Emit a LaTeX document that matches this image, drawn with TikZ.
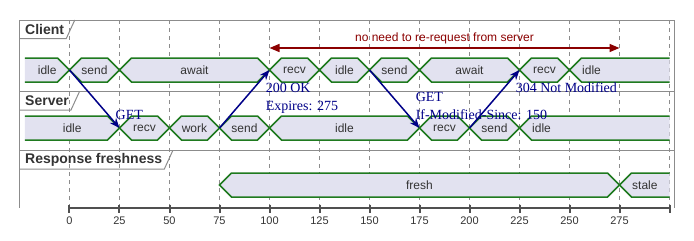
\documentclass[tikz,border=0pt]{standalone}
\usepackage{fontspec}
\setmainfont{Liberation Serif}
\setsansfont{Liberation Sans}
\usetikzlibrary{arrows.meta, calc}
\definecolor{waveFill}{HTML}{E2E2F0}
\definecolor{waveGreen}{HTML}{1F7A1F}
\definecolor{msgBlue}{HTML}{000088}
\definecolor{noteRed}{HTML}{8B0000}
\definecolor{frameGray}{HTML}{8C8C8C}
\definecolor{axisGray}{HTML}{505050}
\definecolor{textGray}{HTML}{333333}

% waveform segments: name, y centre, from, to, label
\newcommand{\midstate}[5]{%
  \filldraw[wave] (#3,#2) -- (#3+6,#2-12) -- (#4-6,#2-12) -- (#4,#2)
    -- (#4-6,#2+12) -- (#3+6,#2+12) -- cycle;
  \node[statelbl] (#1) at ({(#3+#4)/2},#2) {#5};}
\newcommand{\firststate}[5]{%
  \fill[wavefill] (#3,#2-12) -- (#4-6,#2-12) -- (#4,#2) -- (#4-6,#2+12) -- (#3,#2+12) -- cycle;
  \draw[waveline] (#3,#2-12) -- (#4-6,#2-12) -- (#4,#2) -- (#4-6,#2+12) -- (#3,#2+12);
  \node[statelbl] (#1) at ({(#3+#4)/2},#2) {#5};}
\newcommand{\laststate}[5]{%
  \fill[wavefill] (#4,#2-12) -- (#3+6,#2-12) -- (#3,#2) -- (#3+6,#2+12) -- (#4,#2+12) -- cycle;
  \draw[waveline] (#4,#2-12) -- (#3+6,#2-12) -- (#3,#2) -- (#3+6,#2+12) -- (#4,#2+12);
  \node[statelbl, anchor=west] (#1) at (#3+6.25,#2) {#5};}

\begin{document}
\begin{tikzpicture}[
  x=2pt, y=-1pt,
  wave/.style={fill=waveFill, draw=waveGreen, line width=1.5pt},
  wavefill/.style={fill=waveFill},
  waveline/.style={draw=waveGreen, line width=1.5pt},
  statelbl/.style={font=\sffamily\fontsize{12}{14}\selectfont, text=textGray, inner sep=0pt},
  hdr/.style={font=\sffamily\bfseries\fontsize{14}{16}\selectfont, text=textGray, inner sep=0pt, anchor=west},
  frameline/.style={draw=frameGray, line width=1pt},
  gridline/.style={draw=frameGray, dash pattern=on 4pt off 4pt, line width=0.8pt},
  axisline/.style={draw=axisGray, line width=2pt},
  ticklbl/.style={font=\sffamily\fontsize{11}{13}\selectfont, text=textGray, inner sep=0pt},
  msg/.style={draw=msgBlue, line width=1.5pt, -{Stealth[length=10pt, width=8pt]}},
  msglbl/.style={font=\fontsize{14}{18}\selectfont, text=msgBlue, inner sep=0pt, align=left},
  noreq/.style={draw=noteRed, line width=1.5pt, {Triangle[length=10pt, width=8pt]}-{Triangle[length=10pt, width=8pt]}},
  notelbl/.style={font=\sffamily\fontsize{12}{14}\selectfont, text=noteRed, inner sep=0pt},
]
  \useasboundingbox (-34.75,0) rectangle (312.25,241);

  % time grid
  \foreach \t in {0,25,...,300}
    \draw[gridline] (\t,20) -- (\t,207.5);

  % frame and lanes
  \draw[frameline] (-24.75,207.5) -- (-24.75,20) -- (302.25,20) -- (302.25,207.5);
  \draw[frameline] (-24.75,91.5) -- (302.25,91.5);
  \draw[frameline] (-24.75,150.5) -- (302.25,150.5);

  \node[hdr] (hdr-client) at (-22.25,29.5) {Client};
  \draw[frameline] (-24.75,38.5) -- ($(hdr-client.east)+(2pt,-9pt)$) -- ++(8.5pt,18.5pt);
  \node[hdr] (hdr-server) at (-22.25,101) {Server};
  \draw[frameline] (-24.75,110) -- ($(hdr-server.east)+(2pt,-9pt)$) -- ++(8.5pt,18.5pt);
  \node[hdr] (hdr-fresh) at (-22.25,160) {Response freshness};
  \draw[frameline] (-24.75,169) -- ($(hdr-fresh.east)+(2pt,-9pt)$) -- ++(8.5pt,18.5pt);

  % client
  \firststate{cl-idle1}{70}{-22.25}{0}{idle}
  \midstate{cl-send1}{70}{0}{25}{send}
  \midstate{cl-await1}{70}{25}{100}{await}
  \midstate{cl-recv1}{70}{100}{125}{recv}
  \midstate{cl-idle2}{70}{125}{150}{idle}
  \midstate{cl-send2}{70}{150}{175}{send}
  \midstate{cl-await2}{70}{175}{225}{await}
  \midstate{cl-recv2}{70}{225}{250}{recv}
  \laststate{cl-idle3}{70}{250}{300}{idle}

  % server
  \firststate{sv-idle1}{128}{-22.25}{25}{idle}
  \midstate{sv-recv1}{128}{25}{50}{recv}
  \midstate{sv-work}{128}{50}{75}{work}
  \midstate{sv-send1}{128}{75}{100}{send}
  \midstate{sv-idle2}{128}{100}{175}{idle}
  \midstate{sv-recv2}{128}{175}{200}{recv}
  \midstate{sv-send2}{128}{200}{225}{send}
  \laststate{sv-idle3}{128}{225}{300}{idle}

  % response freshness
  \midstate{fr-fresh}{185}{75}{275}{fresh}
  \laststate{fr-stale}{185}{275}{300}{stale}

  % time axis
  \draw[axisline] (0,207.5) -- (300,207.5);
  \foreach \t in {0,25,...,300}
    \draw[axisline] (\t,204.5) -- (\t,213);
  \foreach \t in {0,25,...,275}
    \node[ticklbl] (tick-\t) at (\t,221) {\t};

  % messages
  \coordinate (cl-t0) at (0,70);
  \coordinate (sv-t25) at (25,128);
  \coordinate (sv-t75) at (75,128);
  \coordinate (cl-t100) at (100,70);
  \coordinate (cl-t150) at (150,70);
  \coordinate (sv-t175) at (175,128);
  \coordinate (sv-t200) at (200,128);
  \coordinate (cl-t225) at (225,70);

  \draw[msg] (cl-t0) -- (sv-t25)
    node[msglbl, pos=1, anchor=south west, xshift=-4.5pt, yshift=8pt] (lbl-get1) {GET};
  \draw[msg] (sv-t75) -- (cl-t100)
    node[msglbl, pos=1, anchor=north west, xshift=-4.5pt, yshift=-12pt] (lbl-ok) {200 OK\\Expires: 275};
  \draw[msg] (cl-t150) -- (sv-t175)
    node[msglbl, pos=1, anchor=south west, xshift=-4.5pt, yshift=8pt] (lbl-get2) {GET\\If-Modified-Since: 150};
  \draw[msg] (sv-t200) -- (cl-t225)
    node[msglbl, pos=1, anchor=north west, xshift=-4.5pt, yshift=-12pt] (lbl-304) {304 Not Modified};

  % cached window
  \coordinate (nr-a) at (100,48);
  \coordinate (nr-b) at (275,48);
  \draw[noreq] (nr-a) -- (nr-b)
    node[notelbl, midway, anchor=base, yshift=7pt] (nr-lbl) {no need to re-request from server};
\end{tikzpicture}
\end{document}
